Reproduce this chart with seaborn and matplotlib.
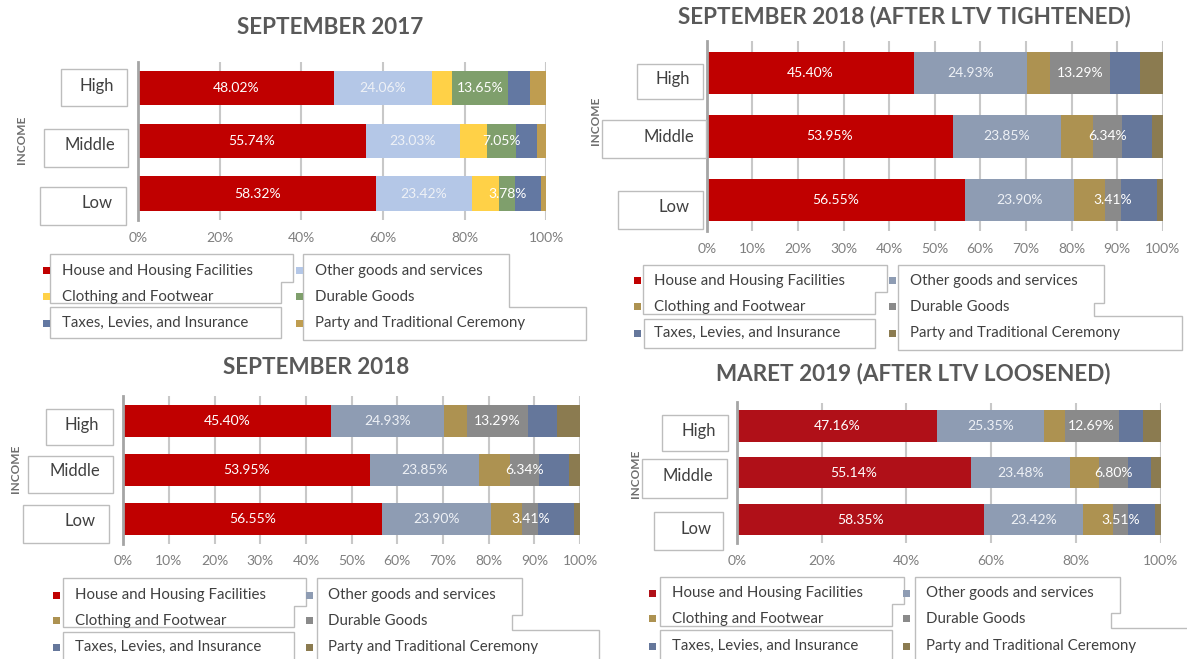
import numpy as np
import pandas as pd
import matplotlib
matplotlib.use("Agg")
import matplotlib.pyplot as plt
import seaborn as sns
from matplotlib.patches import Polygon, Rectangle

# ---------------- data ----------------
income = ["High", "Middle", "Low"]
categories = ["House and Housing Facilities", "Other goods and services",
              "Clothing and Footwear", "Durable Goods",
              "Taxes, Levies, and Insurance", "Party and Traditional Ceremony"]
labelled = ["House and Housing Facilities", "Other goods and services", "Durable Goods"]

sep2017_house = [48.02, 55.74, 58.32]
sep2017_other = [24.06, 23.03, 23.42]
sep2017_clothing = [4.90, 6.78, 6.80]
sep2017_durable = [13.65, 7.05, 3.78]
sep2017_taxes = [5.50, 5.20, 6.40]
sep2017_party = [3.87, 2.20, 1.28]

sep2018_house = [45.40, 53.95, 56.55]
sep2018_other = [24.93, 23.85, 23.90]
sep2018_clothing = [4.90, 6.90, 6.95]
sep2018_durable = [13.29, 6.34, 3.41]
sep2018_taxes = [6.40, 6.60, 7.90]
sep2018_party = [5.08, 2.36, 1.29]

mar2019_house = [47.16, 55.14, 58.35]
mar2019_other = [25.35, 23.48, 23.42]
mar2019_clothing = [4.90, 6.85, 7.10]
mar2019_durable = [12.69, 6.80, 3.51]
mar2019_taxes = [5.80, 5.40, 6.30]
mar2019_party = [4.10, 2.33, 1.32]

titles = ["SEPTEMBER 2017", "SEPTEMBER 2018 (AFTER LTV TIGHTENED)",
          "SEPTEMBER 2018", "MARET 2019 (AFTER LTV LOOSENED)"]
ticks_20 = [0, 20, 40, 60, 80, 100]
ticks_10 = [0, 10, 20, 30, 40, 50, 60, 70, 80, 90, 100]

# ---------------- styles ----------------
colors_2017 = ["#C00000", "#B4C7E7", "#FFD147", "#7F9F6C", "#6378A2", "#BF9D50"]
colors_2018 = ["#C00000", "#8E9CB3", "#AD9251", "#8A8A8A", "#65779B", "#8B7B50"]
colors_2019 = ["#B01018", "#8E9CB3", "#AD9251", "#8A8A8A", "#65779B", "#8B7B50"]

W, H = 1187, 659
sns.set_theme(style="white")
plt.rcParams['font.family'] = ['Lato', 'DejaVu Sans']

fig = plt.figure(figsize=(W / 100, H / 100), dpi=100)
fig.patch.set_facecolor("white")


def fx(x):
    return x / W


def fy(y):
    return 1 - y / H


def poly(pts, z=1):
    p = Polygon([(fx(x), fy(y)) for x, y in pts], closed=True,
                transform=fig.transFigure, facecolor="white",
                edgecolor="#BDBDBD", lw=1.0, zorder=z)
    fig.add_artist(p)


def rect_box(x0, x1, y0, y1, z=1):
    poly([(x0, y0), (x1, y0), (x1, y1), (x0, y1)], z)


panels = [
    dict(data=[sep2017_house, sep2017_other, sep2017_clothing, sep2017_durable, sep2017_taxes, sep2017_party],
         colors=colors_2017, ticks=ticks_20, ax=(138.2, 546.1, 61.7, 220.0), bw=0.65,
         title=(330, 27.3), income_lbl=(21.7, 140),
         boxes=[(61.3, 127.3, 69.3, 105.7, 114.3, 86), (43.7, 128, 128.7, 166.7, 115.7, 145),
                (40.3, 125.7, 187.3, 225.3, 112.3, 203.3)],
         rows=(270.7, 296.7, 323.3), cols=(46, 62, 299.7, 315),
         legboxes=[[(50, 254), (293.1, 254), (293.1, 282.3), (281.3, 282.3), (281.3, 303.3), (50, 303.3)],
                   [(50, 307.3), (281.3, 307.3), (281.3, 338.3), (50, 338.3)],
                   [(303.5, 254), (509, 254), (509, 306.7), (586.3, 306.7), (586.3, 340), (303.5, 340)]]),
    dict(data=[sep2018_house, sep2018_other, sep2018_clothing, sep2018_durable, sep2018_taxes, sep2018_party],
         colors=colors_2018, ticks=ticks_10, ax=(706.7, 1162.7, 41.3, 231.5), bw=0.67,
         title=(904, 16.7), income_lbl=(595.7, 121),
         boxes=[(636.7, 703.3, 64, 99.3, 690, 79.3), (602.3, 706, 120, 158, 694, 136.7),
                (618.3, 703.3, 190.7, 229, 690, 207.3)],
         rows=(280.7, 306.7, 333.3), cols=(637.8, 654.3, 892.3, 910),
         legboxes=[[(642.8, 264.7), (887, 264.7), (887, 292.3), (875.1, 292.3), (875.1, 314), (642.8, 314)],
                   [(643.6, 318.7), (875.1, 318.7), (875.1, 348.3), (643.6, 348.3)],
                   [(898.1, 264.7), (1103.6, 264.7), (1103.6, 302.7), (1093.6, 302.7), (1093.6, 316),
                    (1182.4, 316), (1182.4, 350), (898.1, 350)]]),
    dict(data=[sep2018_house, sep2018_other, sep2018_clothing, sep2018_durable, sep2018_taxes, sep2018_party],
         colors=colors_2018, ticks=ticks_10, ax=(123.3, 580.0, 396.2, 543.5), bw=0.66,
         title=(316, 367.3), income_lbl=(15, 469),
         boxes=[(46, 112.7, 409, 445, 99.3, 425), (27.7, 112.7, 455.7, 493.3, 100, 471),
                (23.3, 108.7, 505.3, 543.3, 96, 521)],
         rows=(595, 620.7, 647.3), cols=(56.3, 75.4, 310, 328.4),
         legboxes=[[(63.5, 578), (306.2, 578), (306.2, 606), (293.9, 606), (293.9, 627.3), (63.5, 627.3)],
                   [(63.5, 631.7), (293.9, 631.7), (293.9, 665), (63.5, 665)],
                   [(316.5, 578), (522, 578), (522, 615), (512, 615), (512, 630), (599, 630), (599, 665),
                    (316.5, 665)]]),
    dict(data=[mar2019_house, mar2019_other, mar2019_clothing, mar2019_durable, mar2019_taxes, mar2019_party],
         colors=colors_2019, ticks=ticks_20, ax=(737.0, 1160.5, 402.5, 543.0), bw=0.67,
         title=(913.4, 374), income_lbl=(635.7, 474),
         boxes=[(662.3, 728.3, 415.3, 450.7, 716, 430.7), (642, 726.7, 459.3, 497.7, 713.3, 476),
                (654, 723.3, 512.3, 550.3, 711.7, 529.3)],
         rows=(593.3, 618.7, 646), cols=(652.4, 671.5, 906.9, 926),
         legboxes=[[(659.7, 576.7), (903.8, 576.7), (903.8, 604.3), (892.3, 604.3), (892.3, 625.7), (659.7, 625.7)],
                   [(659.7, 630), (892.3, 630), (892.3, 665), (659.7, 665)],
                   [(914.5, 576.7), (1120.4, 576.7), (1120.4, 613.3), (1111.2, 613.3), (1111.2, 628.3),
                    (1190, 628.3), (1190, 665), (914.5, 665)]]),
]

for title, p in zip(titles, panels):
    x0, x1, yt, yb = p["ax"]
    ax = fig.add_axes([fx(x0), fy(yb), (x1 - x0) / W, (yb - yt) / H])
    df = pd.DataFrame({c: v for c, v in zip(categories, p["data"])}, index=income)
    cum = df.cumsum(axis=1)
    cmap = dict(zip(categories, p["colors"]))
    for cat in reversed(categories):
        sns.barplot(x=cum[cat].values, y=income, order=income, color=cmap[cat],
                    orient="h", width=p["bw"], saturation=1, errorbar=None,
                    linewidth=0, ax=ax, zorder=2)
    # data labels
    for i, inc in enumerate(income):
        for cat in labelled:
            v = df.loc[inc, cat]
            c = cum.loc[inc, cat] - v / 2
            col = "#FFFFFF" if cat != "Other goods and services" else "#EEF1F6"
            ax.text(c, i, f"{v:.2f}%", ha="center", va="center", fontsize=10,
                    color=col, zorder=5)
    ax.set_xlim(0, 100)
    ax.set_ylim(2.5, -0.5)
    ax.set_xticks(p["ticks"])
    ax.set_xticklabels([f"{t}%" for t in p["ticks"]])
    ax.set_yticks([])
    ax.set_xlabel("")
    ax.set_ylabel("")
    ax.set_facecolor("white")
    ax.xaxis.grid(True, color="#C8C8C8", lw=1.5)
    ax.set_axisbelow(True)
    for s in ["top", "right", "bottom"]:
        ax.spines[s].set_visible(False)
    ax.spines["left"].set_color("#A5A5A5")
    ax.spines["left"].set_linewidth(2)
    ax.tick_params(axis="x", length=0, pad=8.5, labelsize=10, labelcolor="#7F7F7F")

    # title
    fig.text(fx(p["title"][0]), fy(p["title"][1]), title, ha="center", va="center",
             fontsize=16.2, fontweight="bold", color="#595959")
    # INCOME
    fig.text(fx(p["income_lbl"][0]), fy(p["income_lbl"][1]), "INCOME", rotation=90,
             ha="center", va="center", fontsize=8.5, fontweight="bold", color="#6E6E6E")
    # category boxes
    for (bx0, bx1, by0, by1, tx, ty), lab in zip(p["boxes"], income):
        rect_box(bx0, bx1, by0, by1, z=1)
        fig.text(fx(tx), fy(ty), lab, ha="right", va="center", fontsize=12,
                 color="#404040", zorder=3)
    # legend
    for pts in p["legboxes"]:
        poly(pts, z=1)
    m1, t1, m2, t2 = p["cols"]
    for r, (ca, cb) in enumerate([(0, 1), (2, 3), (4, 5)]):
        yrow = p["rows"][r]
        for ci, mx, tx in [(ca, m1, t1), (cb, m2, t2)]:
            sq = Rectangle((fx(mx - 3.5), fy(yrow + 3.5)), 7 / W, 7 / H,
                           transform=fig.transFigure, facecolor=p["colors"][ci],
                           edgecolor="none", zorder=2)
            fig.add_artist(sq)
            fig.text(fx(tx), fy(yrow), categories[ci], ha="left", va="center",
                     fontsize=10.8, color="#404040", zorder=3)

fig.savefig("out.png", dpi=100, facecolor="white")
